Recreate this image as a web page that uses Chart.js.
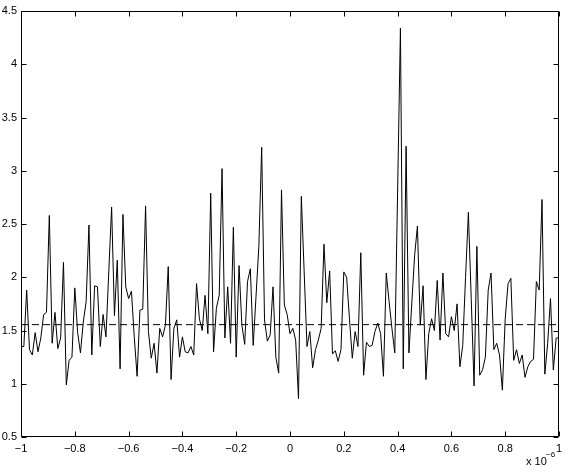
<!DOCTYPE html>
<html>
<head>
<meta charset="utf-8">
<script src="https://cdn.jsdelivr.net/npm/chart.js@4/dist/chart.umd.min.js"></script>
<style>
html,body{margin:0;padding:0;background:#fff;}
#wrap{width:568px;height:476px;position:relative;}
</style>
</head>
<body>
<div id="wrap"><canvas id="c"></canvas></div>
<script>
// ---- data ----
const xRange = [-1, 1];            // x axis (units of 1e-6)
const yRange = [0.5, 4.5];
const xTicks = [-1, -0.8, -0.6, -0.4, -0.2, 0, 0.2, 0.4, 0.6, 0.8, 1];
const yTicks = [0.5, 1, 1.5, 2, 2.5, 3, 3.5, 4, 4.5];
const meanLevel = 1.555;           // dashed reference line
const signal = [
 1.35,1.35,1.88,1.32,1.27,1.48,1.30,1.43,1.65,1.67,
 2.58,1.38,1.67,1.33,1.43,2.14,0.99,1.22,1.25,1.90,
 1.48,1.29,1.58,1.77,2.49,1.27,1.92,1.91,1.35,1.65,
 1.44,2.05,2.66,1.64,2.16,1.14,2.59,1.91,1.80,1.87,
 1.44,1.07,1.69,1.70,2.67,1.49,1.24,1.38,1.10,1.52,
 1.44,1.55,2.10,1.04,1.52,1.60,1.25,1.44,1.30,1.29,
 1.35,1.27,1.94,1.61,1.50,1.83,1.47,2.79,1.30,1.71,
 1.83,3.02,1.43,1.91,1.38,2.47,1.25,2.11,1.55,1.37,
 1.96,2.08,1.36,1.82,2.29,3.22,1.60,1.40,1.46,1.91,
 1.25,1.10,2.82,1.74,1.65,1.47,1.52,1.41,0.86,2.76,
 2.05,1.35,1.49,1.15,1.32,1.41,1.52,2.31,1.76,2.06,
 1.28,1.31,1.21,1.32,2.05,2.00,1.61,1.24,1.49,1.35,
 2.23,1.08,1.39,1.35,1.36,1.49,1.57,1.47,1.07,2.04,
 1.77,1.52,1.29,2.80,4.34,1.14,3.23,1.29,1.75,2.20,
 2.48,1.55,1.92,1.04,1.47,1.61,1.50,1.97,1.41,2.04,
 1.47,1.44,1.63,1.50,1.75,1.16,1.36,2.00,2.61,1.80,
 0.98,2.29,1.08,1.13,1.25,1.88,2.04,1.32,1.38,1.27,
 0.94,1.61,1.94,1.99,1.22,1.32,1.19,1.27,1.06,1.16,
 1.21,1.23,1.96,1.88,2.73,1.09,1.38,1.80,1.13,1.43,
 1.43
];
// evenly spaced sample grid across the x range
const n = signal.length;
const xs = signal.map((_, i) => xRange[0] + (xRange[1] - xRange[0]) * i / (n - 1));

const FONT = '"Liberation Sans", Arial, Helvetica, sans-serif';
const fmt = v => {
  const s = String(Math.round(v * 10) / 10);
  return s.replace('-', '\u2212');
};

const boxTicks = {
  id: 'boxTicks',
  afterDraw(chart) {
    const {ctx, chartArea: a, scales: {x, y}} = chart;
    const L = Math.round(a.left) + 0.5, R = Math.round(a.right) - 0.5;
    const T = Math.round(a.top) + 0.5, B = Math.round(a.bottom) - 0.5;
    const tl = 5;
    ctx.save();
    ctx.strokeStyle = '#000';
    ctx.lineWidth = 1;
    ctx.beginPath();
    ctx.rect(L, T, R - L, B - T);
    xTicks.forEach(v => {
      const px = Math.round(x.getPixelForValue(v)) + 0.5;
      ctx.moveTo(px, B); ctx.lineTo(px, B - tl);
      ctx.moveTo(px, T); ctx.lineTo(px, T + tl);
    });
    yTicks.forEach(v => {
      const py = Math.round(y.getPixelForValue(v)) + 0.5;
      ctx.moveTo(L, py); ctx.lineTo(L + tl, py);
      ctx.moveTo(R, py); ctx.lineTo(R - tl, py);
    });
    ctx.stroke();
    // exponent label
    ctx.fillStyle = '#000';
    ctx.textBaseline = 'middle';
    ctx.textAlign = 'left';
    ctx.font = '11px ' + FONT;
    ctx.fillText('x 10', 526, 462);
    ctx.font = '8px ' + FONT;
    ctx.fillText('\u22126', 546, 455);
    ctx.restore();
  }
};

new Chart(document.getElementById('c'), {
  type: 'line',
  data: {
    datasets: [
      {
        data: xs.map((x, i) => ({x, y: signal[i]})),
        borderColor: '#000',
        borderWidth: 1,
        pointRadius: 0,
        tension: 0,
        fill: false
      },
      {
        data: [{x: xRange[0], y: meanLevel}, {x: xRange[1], y: meanLevel}],
        borderColor: '#000',
        borderWidth: 1,
        borderDash: [7, 4],
        pointRadius: 0,
        fill: false
      }
    ]
  },
  options: {
    responsive: true,
    maintainAspectRatio: false,
    animation: false,
    events: [],
    layout: {padding: {top: 11, right: 9, left: 0, bottom: 0}},
    plugins: {legend: {display: false}, tooltip: {enabled: false}},
    scales: {
      x: {
        type: 'linear',
        min: xRange[0], max: xRange[1],
        afterBuildTicks: s => { s.ticks = xTicks.map(v => ({value: v})); },
        afterFit: s => { s.height = 39; },
        grid: {display: false, drawTicks: false},
        border: {display: false},
        ticks: {
          color: '#000', padding: 5, maxRotation: 0, autoSkip: false,
          font: {family: FONT, size: 11},
          callback: v => fmt(v)
        }
      },
      y: {
        type: 'linear',
        min: yRange[0], max: yRange[1],
        afterBuildTicks: s => { s.ticks = yTicks.map(v => ({value: v})); },
        afterFit: s => { s.width = 21; },
        grid: {display: false, drawTicks: false},
        border: {display: false},
        ticks: {
          color: '#000', padding: 4, autoSkip: false,
          font: {family: FONT, size: 11},
          callback: v => fmt(v)
        }
      }
    }
  },
  plugins: [boxTicks]
});
</script>
</body>
</html>
